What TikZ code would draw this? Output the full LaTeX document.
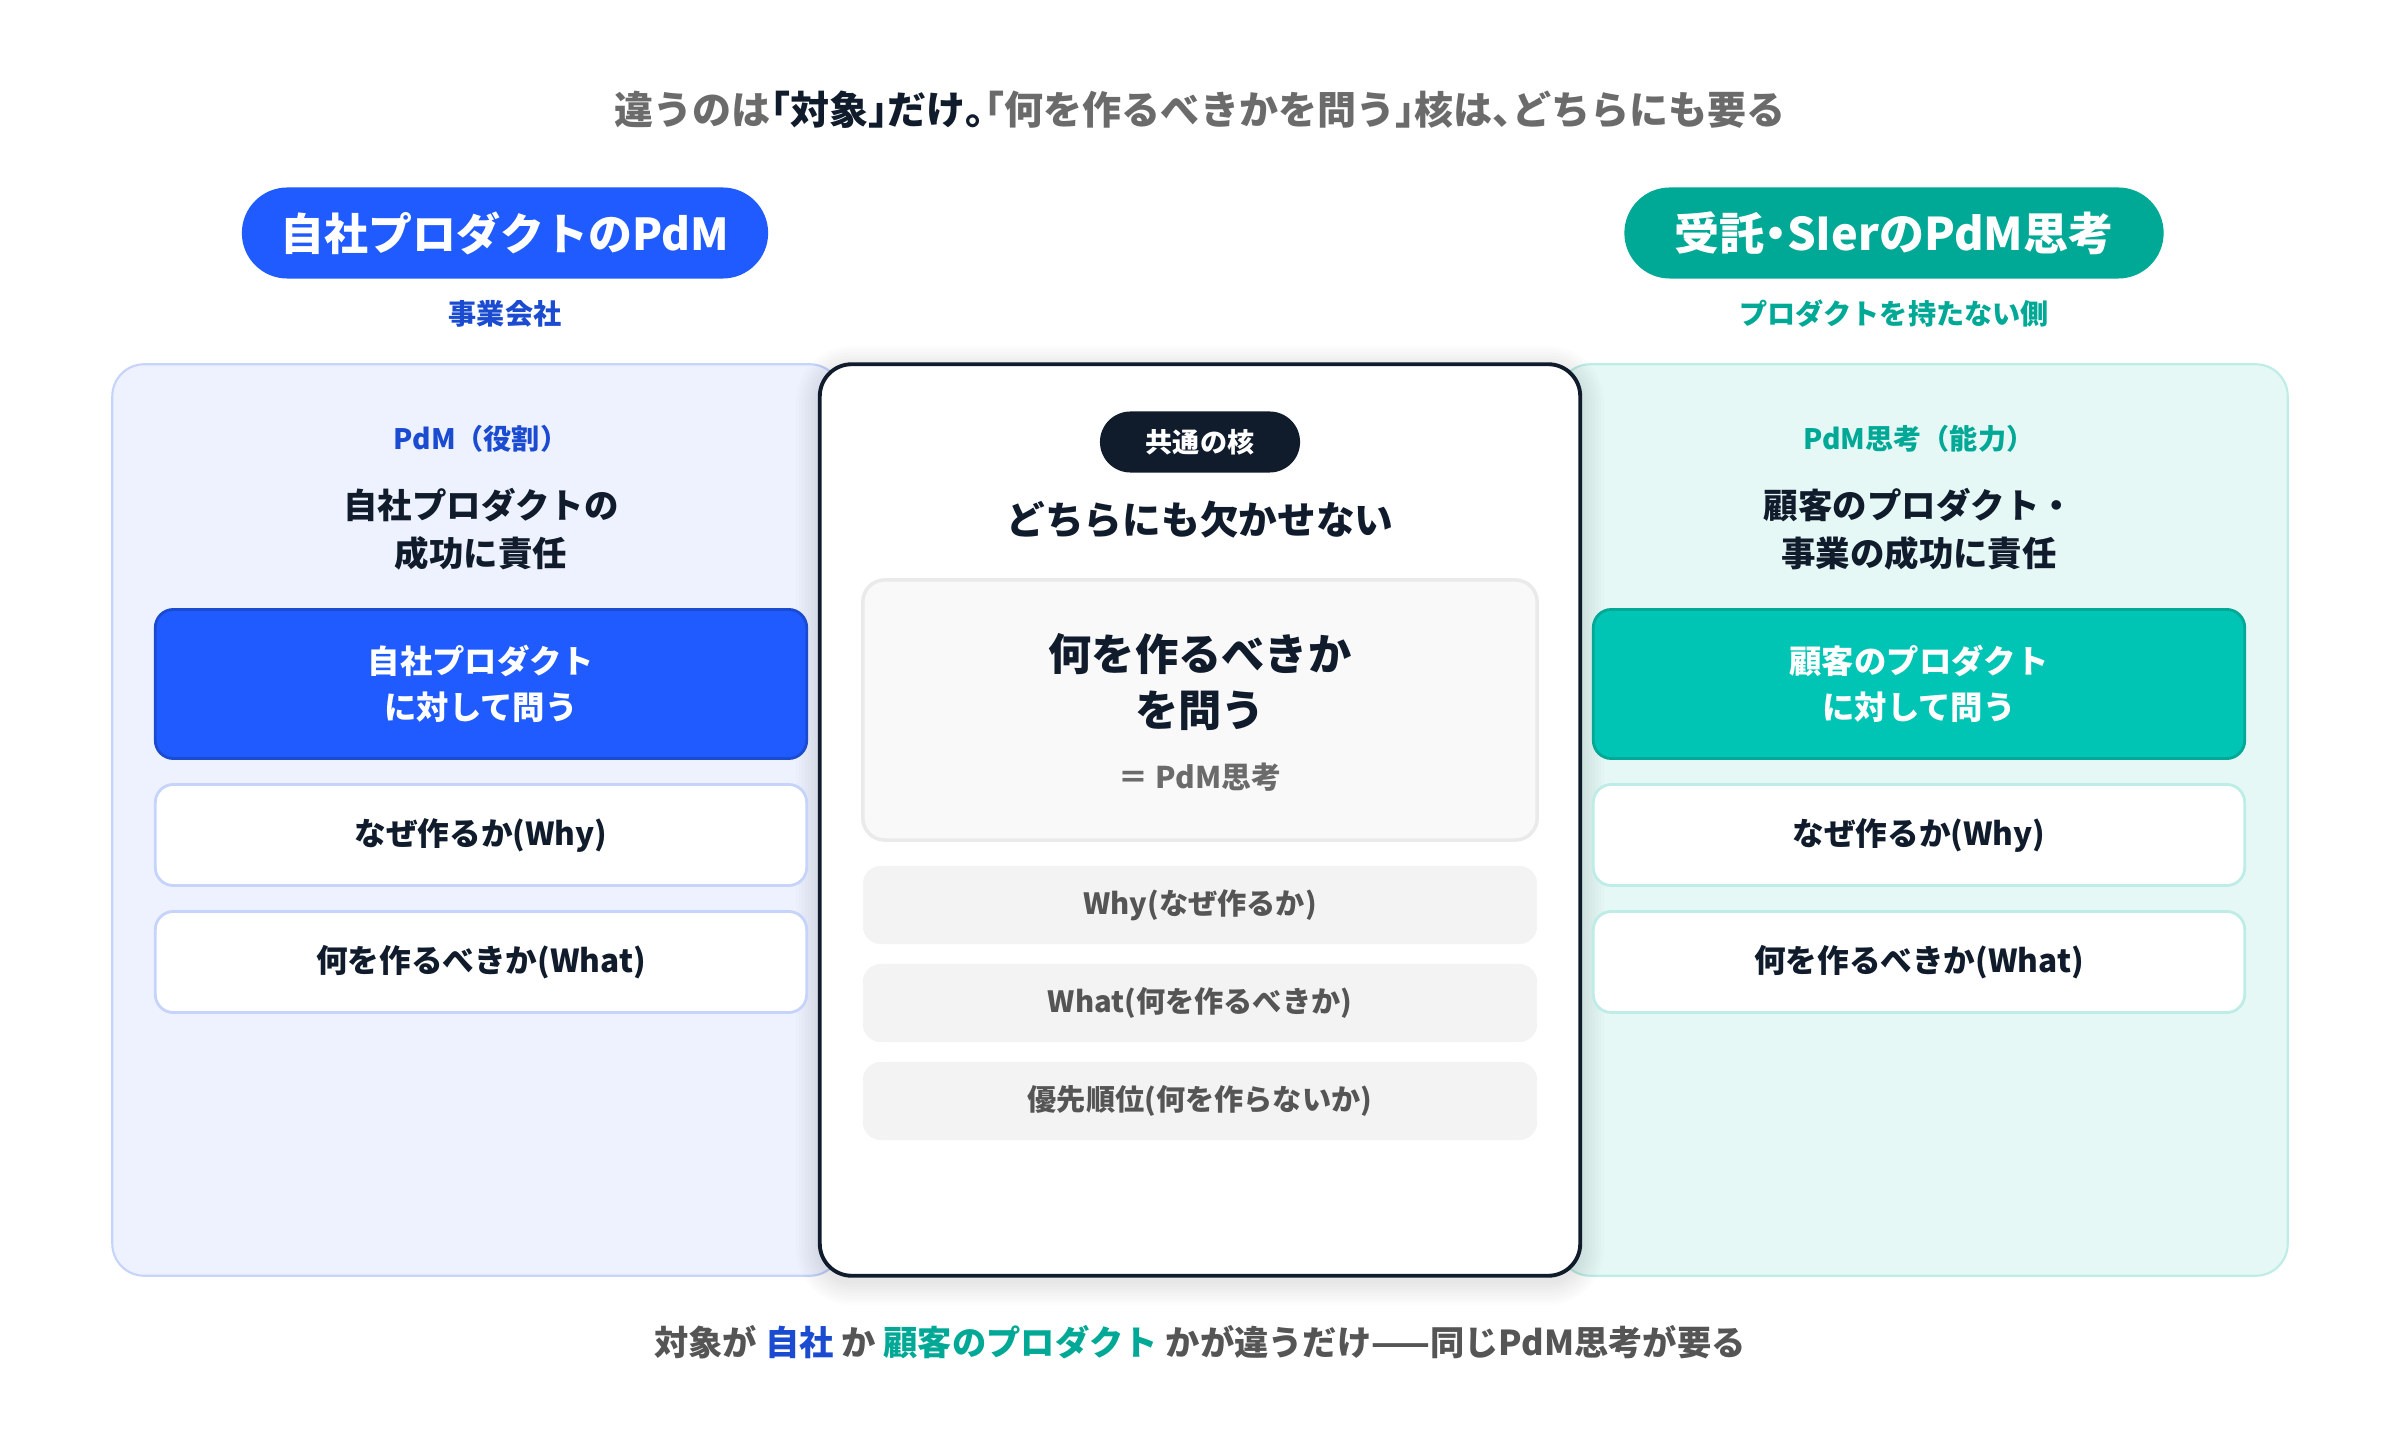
\documentclass[tikz,border=0pt]{standalone}
\usepackage{fontspec}
\setmainfont{Noto Sans CJK JP}
\newfontfamily\halfpunct{Noto Sans CJK JP}[RawFeature=+halt]
\definecolor{pdmblue}{HTML}{1F5BFF}
\definecolor{pdmdeep}{HTML}{1A4BD1}
\definecolor{navy}{HTML}{101C2C}
\definecolor{teal}{HTML}{00A896}
\definecolor{tealbox}{HTML}{00C4B4}
\definecolor{leftbg}{HTML}{EEF2FF}
\definecolor{leftline}{HTML}{C6D4FB}
\definecolor{rightbg}{HTML}{E6F8F6}
\definecolor{rightline}{HTML}{BDEDE6}
\definecolor{graytext}{HTML}{6B6B6B}
\definecolor{gray2}{HTML}{555555}
\definecolor{corebg}{HTML}{F9F9F9}
\definecolor{coreline}{HTML}{EAEAEA}
\definecolor{chipbg}{HTML}{F3F3F3}
\newcommand\hp[1]{{\halfpunct #1}}
\begin{document}
\begin{tikzpicture}[x=0.01cm,y=-0.01cm,
    panel/.style={draw, rounded corners=0.32cm, line width=0.6pt, minimum width=7.29cm, minimum height=9.11cm},
    pill/.style={rounded corners=0.455cm, minimum height=0.91cm, text=white, font=\bfseries\fontsize{12.5}{15}\selectfont},
    sub/.style={font=\bfseries\fontsize{8}{10}\selectfont},
    head/.style={align=center, text=navy, font=\bfseries\fontsize{9.8}{13.7}\selectfont},
    askbox/.style={draw, rounded corners=0.18cm, line width=0.8pt, minimum width=6.51cm, minimum height=1.49cm, text=white, align=center, font=\bfseries\fontsize{9.2}{13}\selectfont},
    chip/.style={draw, fill=white, rounded corners=0.18cm, line width=0.8pt, minimum width=6.51cm, minimum height=1.01cm, text=navy, font=\bfseries\fontsize{9}{11}\selectfont},
    gchip/.style={fill=chipbg, rounded corners=0.18cm, minimum width=6.74cm, minimum height=0.78cm, text=gray2, font=\bfseries\fontsize{8.3}{10}\selectfont}]
\useasboundingbox[fill=white] (0,0) rectangle (2400,1440);

% title
\node (title) at (1200,110) {\bfseries\fontsize{11.1}{13}\selectfont\color{graytext}違うのは{\color{navy}\hp{「}対象\hp{」}だけ\hp{。}}\hp{「}何を作るべきかを問う\hp{」}核は\hp{、}どちらにも要る};

% side panels
\node[panel, fill=leftbg, draw=leftline] (left) at (477,820) {};
\node[panel, fill=rightbg, draw=rightline] (right) at (1923,820) {};

% soft shadow under the center panel
\foreach \s in {1,...,8}
  \fill[black, opacity=0.012, rounded corners=0.32cm+\s*0.03cm]
    (820-\s*3,364-\s*3+6) rectangle (1580+\s*3,1275+\s*3+6);

% center panel
\node[panel, fill=white, draw=navy, line width=1.1pt, minimum width=7.6cm] (core) at (1200,820) {};

% pills
\node[pill, fill=pdmblue, minimum width=5.26cm] (ownpill) at (505,233) {自社プロダクトのPdM};
\node[sub, text=pdmdeep] (ownsub) at (505,314) {事業会社};
\node[pill, fill=teal, minimum width=5.39cm, font=\bfseries\fontsize{12.8}{15}\selectfont] (sipill) at (1894,233) {受託\hp{・}SIerのPdM思考};
\node[sub, text=teal] (sisub) at (1894,314) {プロダクトを持たない側};

% left column
\node[sub, text=pdmdeep] (ownrole) at (481,439) {PdM（役割）};
\node[head] (ownhead) at (481,529) {自社プロダクトの\\成功に責任};
\node[askbox, fill=pdmblue, draw=pdmdeep] (ownask) at (481,684) {自社プロダクト\\に対して問う};
\node[chip, draw=leftline] (ownwhy) at (481,835) {なぜ作るか(Why)};
\node[chip, draw=leftline] (ownwhat) at (481,962) {何を作るべきか(What)};

% right column
\node[sub, text=teal] (sirole) at (1919,439) {PdM思考（能力）};
\node[head] (sihead) at (1919,529) {顧客のプロダクト・\\事業の成功に責任};
\node[askbox, fill=tealbox, draw=teal] (siask) at (1919,684) {顧客のプロダクト\\に対して問う};
\node[chip, draw=rightline] (siwhy) at (1919,835) {なぜ作るか(Why)};
\node[chip, draw=rightline] (siwhat) at (1919,962) {何を作るべきか(What)};

% center column
\node[fill=navy, text=white, rounded corners=0.305cm, minimum width=2cm, minimum height=0.61cm,
      font=\bfseries\fontsize{7.7}{9}\selectfont] (corepill) at (1200,442) {共通の核};
\node[text=navy, font=\bfseries\fontsize{11}{13}\selectfont] (corehead) at (1200,520) {どちらにも欠かせない};
\node[fill=corebg, draw=coreline, line width=1pt, rounded corners=0.22cm, minimum width=6.74cm, minimum height=2.6cm] (corebox) at (1200,710) {};
\node[head, font=\bfseries\fontsize{12.3}{16.2}\selectfont] (coreask) at (1200,682) {何を作るべきか\\を問う};
\node[text=graytext, font=\bfseries\fontsize{8.5}{10}\selectfont] (coreeq) at (1200,777) {＝ PdM思考};
\node[gchip] (corewhy) at (1200,905) {Why(なぜ作るか)};
\node[gchip] (corewhat) at (1200,1003) {What(何を作るべきか)};
\node[gchip] (coreprio) at (1200,1101) {優先順位(何を作らないか)};

% bottom line
\node (note) at (1200,1342) {\bfseries\fontsize{9.75}{12}\selectfont\color{gray2}対象が\ {\color{pdmdeep}自社}\ か\ {\color{teal}顧客のプロダクト}\ かが違うだけ——同じPdM思考が要る};
\end{tikzpicture}
\end{document}
